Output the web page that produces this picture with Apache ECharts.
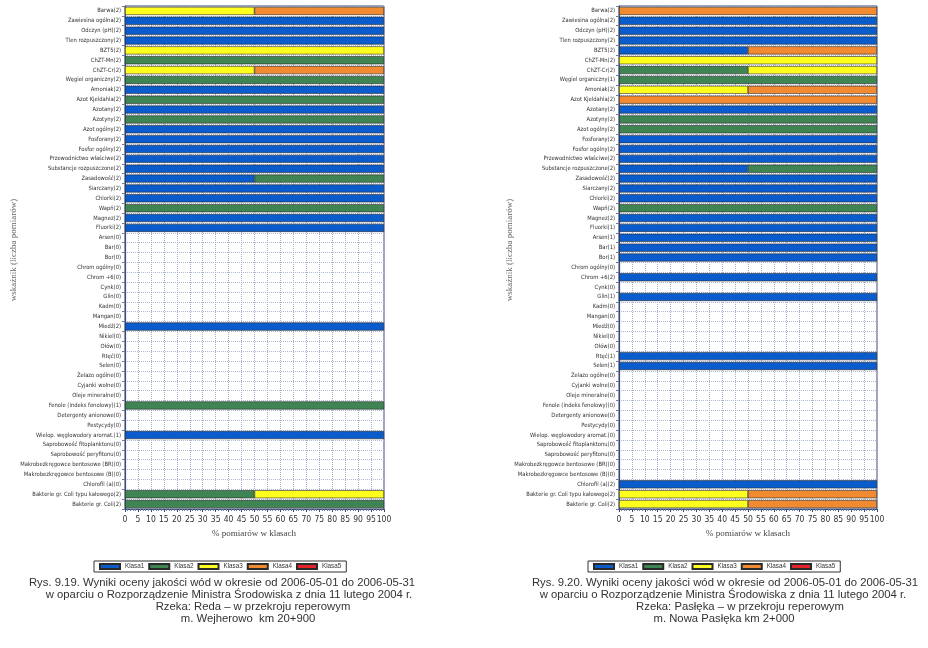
<!DOCTYPE html>
<html><head><meta charset="utf-8">
<script src="https://cdn.jsdelivr.net/npm/echarts@6/dist/echarts.min.js"></script>
<style>html,body{margin:0;padding:0;background:#fff}#c{width:928px;height:648px}</style>
</head><body><div id="c"></div>
<script>
const labelsReda = ["Barwa(2)","Zawiesina ogólna(2)","Odczyn (pH)(2)","Tlen rozpuszczony(2)","BZT5(2)","ChZT-Mn(2)","ChZT-Cr(2)","Węgiel organiczny(2)","Amoniak(2)","Azot Kjeldahla(2)","Azotany(2)","Azotyny(2)","Azot ogólny(2)","Fosforany(2)","Fosfor ogólny(2)","Przewodnictwo właściwe(2)","Substancje rozpuszczone(2)","Zasadowość(2)","Siarczany(2)","Chlorki(2)","Wapń(2)","Magnez(2)","Fluorki(2)","Arsen(0)","Bar(0)","Bor(0)","Chrom ogólny(0)","Chrom +6(0)","Cynk(0)","Glin(0)","Kadm(0)","Mangan(0)","Miedź(2)","Nikiel(0)","Ołów(0)","Rtęć(0)","Selen(0)","Żelazo ogólne(0)","Cyjanki wolne(0)","Oleje mineralne(0)","Fenole (indeks fenolowy)(1)","Detergenty anionowe(0)","Pestycydy(0)","Wielop. węglowodory aromat.(1)","Saprobowość fitoplanktonu(0)","Saprobowość peryfitonu(0)","Makrobezkręgowce bentosowe (BR)(0)","Makrobezkręgowce bentosowe (B)(0)","Chlorofil (a)(0)","Bakterie gr. Coli typu kałowego(2)","Bakterie gr. Coli(2)"];
const labelsPasleka = ["Barwa(2)","Zawiesina ogólna(2)","Odczyn (pH)(2)","Tlen rozpuszczony(2)","BZT5(2)","ChZT-Mn(2)","ChZT-Cr(2)","Węgiel organiczny(1)","Amoniak(2)","Azot Kjeldahla(2)","Azotany(2)","Azotyny(2)","Azot ogólny(2)","Fosforany(2)","Fosfor ogólny(2)","Przewodnictwo właściwe(2)","Substancje rozpuszczone(2)","Zasadowość(2)","Siarczany(2)","Chlorki(2)","Wapń(2)","Magnez(2)","Fluorki(1)","Arsen(1)","Bar(1)","Bor(1)","Chrom ogólny(0)","Chrom +6(2)","Cynk(0)","Glin(1)","Kadm(0)","Mangan(0)","Miedź(0)","Nikiel(0)","Ołów(0)","Rtęć(1)","Selen(1)","Żelazo ogólne(0)","Cyjanki wolne(0)","Oleje mineralne(0)","Fenole (indeks fenolowy)(0)","Detergenty anionowe(0)","Pestycydy(0)","Wielop. węglowodory aromat.(0)","Saprobowość fitoplanktonu(0)","Saprobowość peryfitonu(0)","Makrobezkręgowce bentosowe (BR)(0)","Makrobezkręgowce bentosowe (B)(0)","Chlorofil (a)(2)","Bakterie gr. Coli typu kałowego(2)","Bakterie gr. Coli(2)"];

const classNames = ["Klasa1","Klasa2","Klasa3","Klasa4","Klasa5"];
const xTicks = [0,5,10,15,20,25,30,35,40,45,50,55,60,65,70,75,80,85,90,95,100];

// Reda — % of measurements per class
const redaK1 = [0,100,100,100,0,0,0,0,100,0, 100,0,100,100,100,100,100,50,100,100, 0,100,100,0,0,0,0,0,0,0, 0,0,100,0,0,0,0,0,0,0, 0,0,0,100,0,0,0,0,0,0, 0];
const redaK2 = [0,0,0,0,0,100,0,100,0,100, 0,100,0,0,0,0,0,50,0,0, 100,0,0,0,0,0,0,0,0,0, 0,0,0,0,0,0,0,0,0,0, 100,0,0,0,0,0,0,0,0,50, 100];
const redaK3 = [50,0,0,0,100,0,50,0,0,0, 0,0,0,0,0,0,0,0,0,0, 0,0,0,0,0,0,0,0,0,0, 0,0,0,0,0,0,0,0,0,0, 0,0,0,0,0,0,0,0,0,50, 0];
const redaK4 = [50,0,0,0,0,0,50,0,0,0, 0,0,0,0,0,0,0,0,0,0, 0,0,0,0,0,0,0,0,0,0, 0,0,0,0,0,0,0,0,0,0, 0,0,0,0,0,0,0,0,0,0, 0];
const redaK5 = [0,0,0,0,0,0,0,0,0,0, 0,0,0,0,0,0,0,0,0,0, 0,0,0,0,0,0,0,0,0,0, 0,0,0,0,0,0,0,0,0,0, 0,0,0,0,0,0,0,0,0,0, 0];

// Pasłęka — % of measurements per class
const pasK1 = [0,100,100,100,50,0,0,0,0,0, 100,0,0,100,100,100,50,100,100,100, 0,100,100,100,100,100,0,100,0,100, 0,0,0,0,0,100,100,0,0,0, 0,0,0,0,0,0,0,0,100,0, 0];
const pasK2 = [0,0,0,0,0,0,50,100,0,0, 0,100,100,0,0,0,50,0,0,0, 100,0,0,0,0,0,0,0,0,0, 0,0,0,0,0,0,0,0,0,0, 0,0,0,0,0,0,0,0,0,0, 0];
const pasK3 = [0,0,0,0,0,100,50,0,50,0, 0,0,0,0,0,0,0,0,0,0, 0,0,0,0,0,0,0,0,0,0, 0,0,0,0,0,0,0,0,0,0, 0,0,0,0,0,0,0,0,0,50, 50];
const pasK4 = [100,0,0,0,50,0,0,0,50,100, 0,0,0,0,0,0,0,0,0,0, 0,0,0,0,0,0,0,0,0,0, 0,0,0,0,0,0,0,0,0,0, 0,0,0,0,0,0,0,0,0,50, 50];
const pasK5 = [0,0,0,0,0,0,0,0,0,0, 0,0,0,0,0,0,0,0,0,0, 0,0,0,0,0,0,0,0,0,0, 0,0,0,0,0,0,0,0,0,0, 0,0,0,0,0,0,0,0,0,0, 0];

const classColors = ["#0a5ccc","#3f8553","#ffff1e","#f28a32","#e5232b"];

const redaSets = [redaK1,redaK2,redaK3,redaK4,redaK5];
const pasSets = [pasK1,pasK2,pasK3,pasK4,pasK5];

const narrow = "'Liberation Sans Narrow','DejaVu Sans Condensed','Liberation Sans',sans-serif";
const serif = "'Liberation Serif','DejaVu Serif',serif";

function mkSeries(sets, idx, stack){
  return sets.map((arr,i)=>({
    name: classNames[i], type:'bar', stack: stack,
    xAxisIndex: idx, yAxisIndex: idx,
    barWidth: '82%',
    itemStyle:{color: classColors[i], borderColor:'#2a2a2a', borderWidth:0.6},
    emphasis:{disabled:true},
    data: arr.map(v => v === 0 ? '-' : v)
  }));
}

const grids = [
  {left:125, width:259, top:6, height:503},
  {left:619, width:258, top:6, height:503}
];

function mkX(idx){
  return {
    gridIndex: idx, type:'value', min:0, max:100, interval:5,
    axisLine:{show:true, lineStyle:{color:'#3a4a7a', width:1}},
    axisTick:{show:true, length:3, lineStyle:{color:'#3a4a7a'}},
    minorTick:{show:true, splitNumber:5, length:2, lineStyle:{color:'#6a7aa0'}},
    axisLabel:{fontSize:8.5, color:'#333', fontFamily:narrow, margin:6},
    splitLine:{show:true, lineStyle:{color:'#a4afcc', type:'dotted', width:1}}
  };
}
function mkY(idx, labels){
  return {
    gridIndex: idx, type:'category', inverse:true, data: labels,
    axisLine:{show:true, lineStyle:{color:'#3a4a7a', width:1.2}},
    axisTick:{show:true, length:3, lineStyle:{color:'#6a7aa0'}},
    axisLabel:{fontSize:5.8, color:'#333', fontFamily:narrow, margin:4, interval:0},
    splitLine:{show:true, lineStyle:{color:'#b0b9d4', type:'dotted', width:1}}
  };
}

function caption(lines, cx, y0){
  return lines.map((t,i)=>({
    type:'text', x: cx[i], y: y0 + i*12,
    style:{text:t, textAlign:'center', textVerticalAlign:'middle', font:"11.3px 'Liberation Sans',Arial,sans-serif", fill:'#333'}
  }));
}

const legendCommon = {
  data: classNames.map(n=>({name:n, icon:'rect'})), itemWidth:20, itemHeight:5, itemGap:4, top:561,
  borderColor:'#333', borderWidth:1, padding:[2,5],
  textStyle:{fontSize:6.3, color:'#333', fontFamily:"'Liberation Sans',Arial,sans-serif"},
  selectedMode:false
};

const chart = echarts.init(document.getElementById('c'), null, {renderer:'canvas'});
chart.setOption({
  backgroundColor:'#fff',
  animation:false,
  grid: grids.map(g=>Object.assign({show:true, borderColor:'#3a4a7a', borderWidth:1}, g)),
  xAxis:[mkX(0), mkX(1)],
  yAxis:[mkY(0, labelsReda), mkY(1, labelsPasleka)],
  legend:[Object.assign({left:94}, legendCommon), Object.assign({left:588}, legendCommon)],
  series: mkSeries(redaSets,0,'reda').concat(mkSeries(pasSets,1,'pas')),
  graphic: [
    {type:'text', x:14, y:250, rotation:Math.PI/2, style:{text:'wskaźnik (liczba pomiarów)', textAlign:'center', textVerticalAlign:'middle', font:"9px "+serif, fill:'#666'}},
    {type:'text', x:510, y:250, rotation:Math.PI/2, style:{text:'wskaźnik (liczba pomiarów)', textAlign:'center', textVerticalAlign:'middle', font:"9px "+serif, fill:'#666'}},
    {type:'text', x:254, y:534, style:{text:'% pomiarów w klasach', textAlign:'center', textVerticalAlign:'middle', font:"9px "+serif, fill:'#444'}},
    {type:'text', x:748, y:534, style:{text:'% pomiarów w klasach', textAlign:'center', textVerticalAlign:'middle', font:"9px "+serif, fill:'#444'}}
  ].concat(
    caption(["Rys. 9.19. Wyniki oceny jakości wód w okresie od 2006-05-01 do 2006-05-31",
             "w oparciu o Rozporządzenie Ministra Środowiska z dnia 11 lutego 2004 r.",
             "Rzeka: Reda – w przekroju reperowym",
             "m. Wejherowo  km 20+900"], [222,229,253,248], 583),
    caption(["Rys. 9.20. Wyniki oceny jakości wód w okresie od 2006-05-01 do 2006-05-31",
             "w oparciu o Rozporządzenie Ministra Środowiska z dnia 11 lutego 2004 r.",
             "Rzeka: Pasłęka – w przekroju reperowym",
             "m. Nowa Pasłęka km 2+000"], [725,723,740,724], 583)
  )
});
</script></body></html>
